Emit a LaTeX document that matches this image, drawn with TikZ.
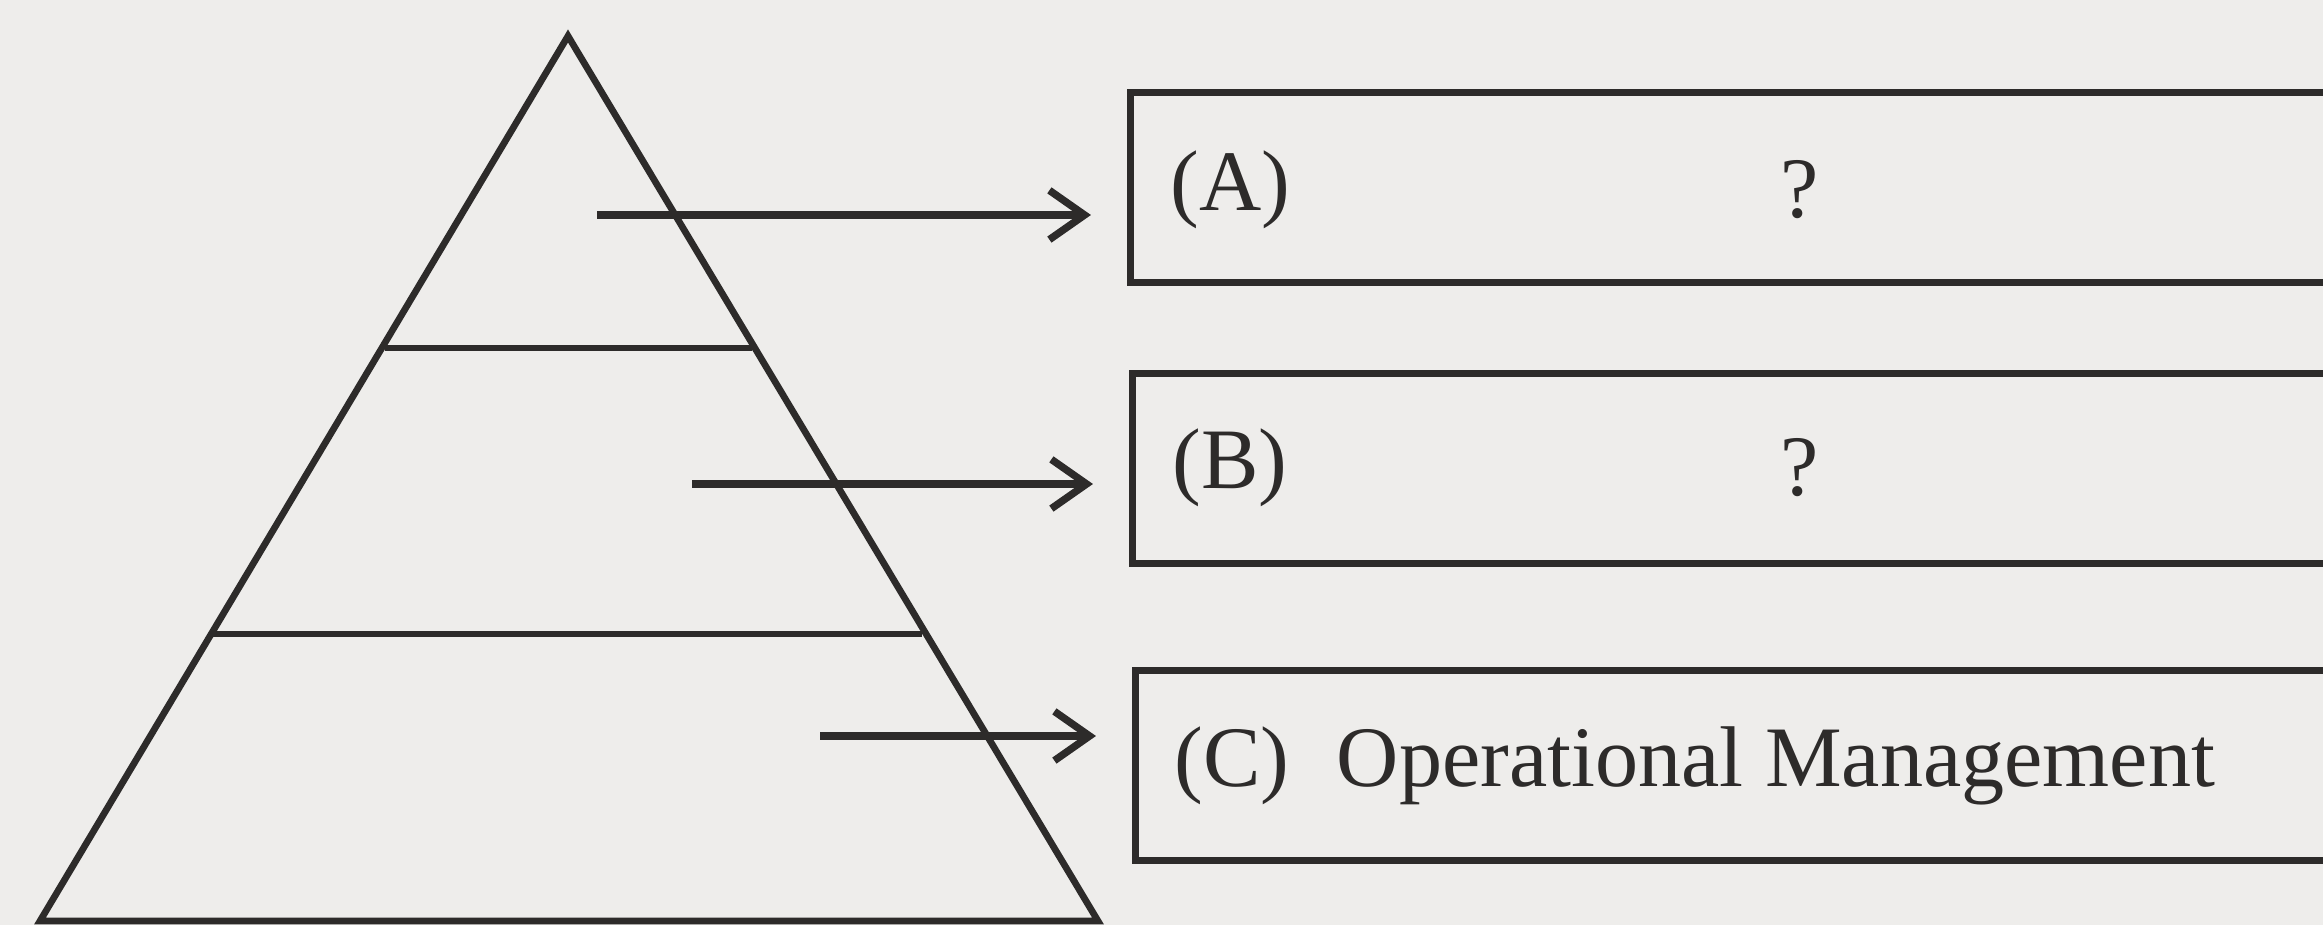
\documentclass[tikz,border=0pt]{standalone}
\usepackage{fontspec}
\setmainfont{Liberation Serif}
\usetikzlibrary{arrows.meta}
\definecolor{paper}{RGB}{238,237,235}
\definecolor{ink}{RGB}{45,43,42}
\begin{document}
\begin{tikzpicture}[x=0.01cm,y=-0.01cm,
  ln/.style={draw=ink,line width=1.9pt},
  arr/.style={draw=ink,line width=2.1pt,shorten >=0.36cm,-{Straight Barb[length=10pt,width=14pt,line width=2.1pt]}},
  levelbox/.style={draw=ink,line width=1.9pt,minimum width=12.1cm,minimum height=1.9cm,inner sep=0pt,anchor=north west},
  lbl/.style={font=\fontsize{24.5}{29}\selectfont,text=ink,inner sep=0pt,anchor=west}]
\useasboundingbox (0,0) rectangle (2323,925);
\fill[paper] (0,0) rectangle (2323,925);
\clip (0,0) rectangle (2323,925);
% pyramid
\coordinate (apex) at (568,36);
\coordinate (bl) at (40,921);
\coordinate (br) at (1098,921);
\draw[ln,line join=miter] (bl) -- (apex) -- (br) -- cycle;
\coordinate (l1a) at (385,348); \coordinate (l1b) at (752,348);
\coordinate (l2a) at (213,634); \coordinate (l2b) at (922,634);
\draw[ln] (l1a) -- (l1b);
\draw[ln] (l2a) -- (l2b);
% boxes
\node[levelbox] (boxA) at (1127,89) {};
\node[levelbox] (boxB) at (1129,370) {};
\node[levelbox] (boxC) at (1132,667) {};
% arrows
\coordinate (sA) at (597,215);
\coordinate (sB) at (692,484);
\coordinate (sC) at (820,736);
\draw[arr] (sA) -- (sA -| boxA.west);
\draw[arr] (sB) -- (sB -| boxB.west);
\draw[arr] (sC) -- (sC -| boxC.west);
% labels
\node[lbl] (tA) at (1170,190) {(A)};
\node[lbl,anchor=center] (qA) at (1800,190) {?};
\node[lbl] (tB) at (1172,468) {(B)};
\node[lbl,anchor=center] (qB) at (1800,468) {?};
\node[lbl] (tC) at (1174,766) {(C)\hspace{0.55em}Operational Management};
\end{tikzpicture}
\end{document}
